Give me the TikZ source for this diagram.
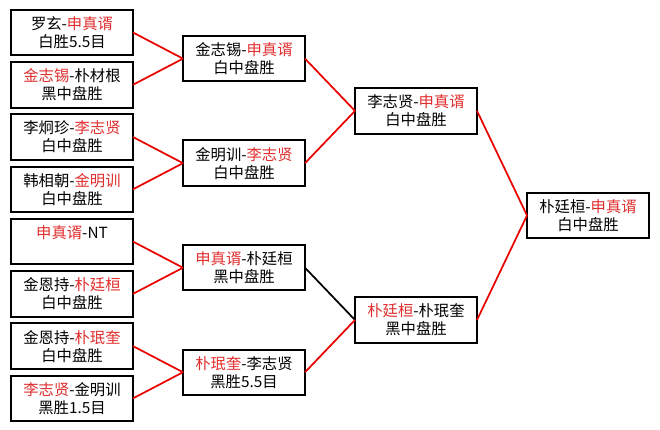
\documentclass[tikz,border=0pt]{standalone}
\usepackage{fontspec}
\setmainfont{Noto Sans CJK SC}
\usetikzlibrary{positioning, calc}

\definecolor{winred}{RGB}{225,45,45}
\definecolor{linered}{RGB}{235,0,0}
\newcommand{\win}[1]{\textcolor{winred}{#1}}

\begin{document}
\begin{tikzpicture}[
  x=0.75pt, y=-0.75pt,
  node distance=5.1pt and 37.5pt,
  match/.style={draw, line width=1.5pt, align=center, minimum width=91.5pt, minimum height=34.1pt,
    inner sep=0pt, outer sep=0pt, font=\fontsize{11.5pt}{13.5pt}\selectfont},
  every edge/.style={draw=linered, line width=1.3pt},
  lostline/.style={draw=black}
]
\useasboundingbox (0,0) rectangle (660,429);

% first round
\node[match] (r1) at (72,32.5) {罗玄-\win{申真谞}\\白胜5.5目};
\node[match, below=of r1] (r2) {\win{金志锡}-朴材根\\黑中盘胜};
\node[match, below=of r2] (r3) {李炯珍-\win{李志贤}\\白中盘胜};
\node[match, below=of r3] (r4) {韩相朝-\win{金明训}\\白中盘胜};
\node[match, below=of r4] (r5) {\win{申真谞}-NT\\\phantom{白中盘胜}};
\node[match, below=of r5] (r6) {金恩持-\win{朴廷桓}\\白中盘胜};
\node[match, below=of r6] (r7) {金恩持-\win{朴珉奎}\\白中盘胜};
\node[match, below=of r7] (r8) {\win{李志贤}-金明训\\黑胜1.5目};

% second round
\coordinate (m12) at ($(r1.east)!0.5!(r2.east)$);
\coordinate (m34) at ($(r3.east)!0.5!(r4.east)$);
\coordinate (m56) at ($(r5.east)!0.5!(r6.east)$);
\coordinate (m78) at ($(r7.east)!0.5!(r8.east)$);
\node[match, right=of m12] (q1) {金志锡-\win{申真谞}\\白中盘胜};
\node[match, right=of m34] (q2) {金明训-\win{李志贤}\\白中盘胜};
\node[match, right=of m56] (q3) {\win{申真谞}-朴廷桓\\黑中盘胜};
\node[match, right=of m78] (q4) {\win{朴珉奎}-李志贤\\黑胜5.5目};

% semi final
\coordinate (mq12) at ($(q1.east)!0.5!(q2.east)$);
\coordinate (mq34) at ($(q3.east)!0.5!(q4.east)$);
\node[match, right=of mq12] (s1) {李志贤-\win{申真谞}\\白中盘胜};
\node[match, right=of mq34] (s2) {\win{朴廷桓}-朴珉奎\\黑中盘胜};

% final
\coordinate (ms) at ($(s1.east)!0.5!(s2.east)$);
\node[match, right=of ms] (fin) {朴廷桓-\win{申真谞}\\白中盘胜};

\draw (r1.east) edge (q1.west);
\draw (r2.east) edge (q1.west);
\draw (r3.east) edge (q2.west);
\draw (r4.east) edge (q2.west);
\draw (r5.east) edge (q3.west);
\draw (r6.east) edge (q3.west);
\draw (r7.east) edge (q4.west);
\draw (r8.east) edge (q4.west);

\draw (q1.east) edge (s1.west);
\draw (q2.east) edge (s1.west);
\draw (q3.east) edge[lostline] (s2.west);
\draw (q4.east) edge (s2.west);

\draw (s1.east) edge (fin.west);
\draw (s2.east) edge (fin.west);
\end{tikzpicture}
\end{document}
